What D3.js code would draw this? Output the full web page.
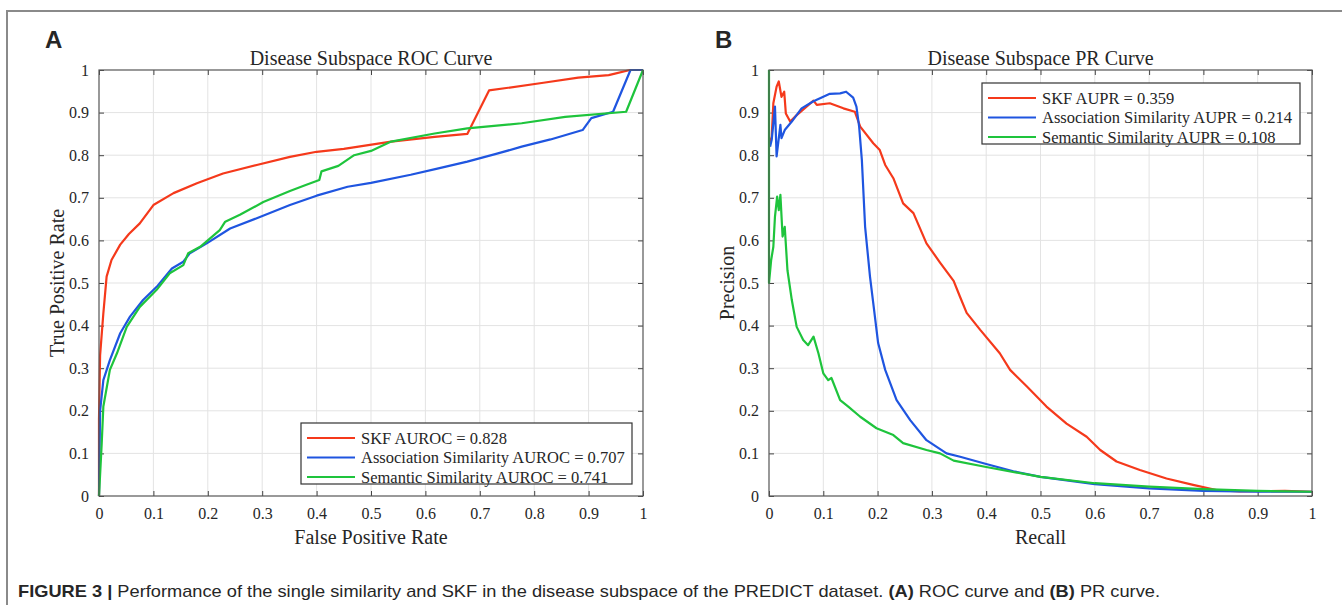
<!doctype html>
<html lang="en">
<head>
  <title>Disease subspace ROC / PR</title>
  <script src="https://d3js.org/d3.v7.min.js"></script>
  <style>
    body { margin: 0px; background: #fff; }
    svg text { font-family: "Liberation Serif", "Times New Roman", serif; fill: #262626; }
    .tick line { stroke: #444; }
    .domain { display: none; }
    .caption, .panel-letter { font-family: "Liberation Sans", Arial, sans-serif; }
  </style>
</head>
<body>
  <div id="container"></div>
  <script>
    // ticks shared by both panels
    var xTicks = [0, 0.1, 0.2, 0.3, 0.4, 0.5, 0.6, 0.7, 0.8, 0.9, 1];
    var yTicks = [0, 0.1, 0.2, 0.3, 0.4, 0.5, 0.6, 0.7, 0.8, 0.9, 1];

    var seriesNames = ["SKF", "Association Similarity", "Semantic Similarity"];
    var seriesColors = ["#f5391b", "#1f55e0", "#1ec43c"];
    var aurocValues = [0.828, 0.707, 0.741];
    var auprValues = [0.359, 0.214, 0.108];

    // ROC curves: [FPR, TPR]
    var skfRoc = [[0,0],[0,0.18],[0.002,0.33],[0.008,0.429],[0.014,0.515],[0.023,0.554],[0.039,0.59],
      [0.055,0.615],[0.075,0.64],[0.1,0.683],[0.137,0.711],[0.18,0.734],[0.228,0.757],[0.29,0.777],
      [0.351,0.796],[0.4,0.808],[0.45,0.815],[0.537,0.832],[0.617,0.843],[0.677,0.85],[0.717,0.952],
      [0.817,0.97],[0.881,0.982],[0.937,0.988],[0.976,1],[1,1]];
    var assocRoc = [[0,0],[0.001,0.1],[0.002,0.2],[0.008,0.272],[0.02,0.319],[0.039,0.382],[0.057,0.421],
      [0.081,0.46],[0.106,0.491],[0.134,0.534],[0.155,0.55],[0.167,0.57],[0.198,0.593],[0.241,0.628],
      [0.29,0.652],[0.351,0.683],[0.4,0.705],[0.457,0.726],[0.5,0.735],[0.573,0.754],[0.62,0.768],
      [0.677,0.785],[0.73,0.803],[0.777,0.82],[0.83,0.837],[0.889,0.859],[0.905,0.887],[0.945,0.902],
      [0.977,1],[1,1]];
    var semRoc = [[0,0],[0.005,0.124],[0.008,0.21],[0.02,0.296],[0.033,0.335],[0.051,0.397],[0.075,0.444],
      [0.106,0.484],[0.13,0.523],[0.155,0.542],[0.164,0.57],[0.186,0.585],[0.222,0.624],[0.232,0.644],
      [0.259,0.66],[0.302,0.69],[0.351,0.716],[0.38,0.73],[0.405,0.742],[0.409,0.762],[0.44,0.775],
      [0.469,0.8],[0.5,0.81],[0.537,0.832],[0.617,0.851],[0.677,0.863],[0.777,0.875],[0.857,0.89],
      [0.969,0.902],[1,1]];

    // PR curves: [recall, precision]
    var skfPr = [[0.002,0.83],[0.005,0.843],[0.008,0.922],[0.014,0.961],[0.018,0.973],[0.023,0.937],
      [0.028,0.949],[0.031,0.898],[0.039,0.879],[0.051,0.894],[0.082,0.928],[0.088,0.918],[0.112,0.922],
      [0.137,0.91],[0.158,0.902],[0.168,0.867],[0.192,0.828],[0.204,0.812],[0.214,0.777],[0.229,0.746],
      [0.247,0.687],[0.266,0.664],[0.29,0.593],[0.315,0.548],[0.34,0.505],[0.351,0.47],[0.364,0.43],
      [0.389,0.39],[0.425,0.335],[0.444,0.296],[0.475,0.257],[0.511,0.21],[0.548,0.17],[0.585,0.139],
      [0.61,0.108],[0.64,0.081],[0.683,0.061],[0.732,0.041],[0.781,0.026],[0.824,0.014],[0.867,0.011],
      [0.95,0.012],[1,0.01]];
    var assocPr = [[0.002,0.82],[0.005,0.836],[0.011,0.914],[0.014,0.797],[0.021,0.871],[0.023,0.84],
      [0.029,0.859],[0.042,0.879],[0.06,0.91],[0.081,0.926],[0.112,0.944],[0.131,0.945],[0.142,0.949],
      [0.155,0.935],[0.161,0.914],[0.166,0.867],[0.171,0.789],[0.177,0.632],[0.186,0.515],[0.192,0.453],
      [0.201,0.359],[0.214,0.296],[0.235,0.225],[0.26,0.178],[0.29,0.131],[0.327,0.1],[0.352,0.092],
      [0.4,0.075],[0.45,0.058],[0.5,0.045],[0.6,0.028],[0.7,0.018],[0.8,0.012],[0.9,0.01],[1,0.01]];
    var semPr = [[0,1],[0,0.5],[0.004,0.554],[0.008,0.585],[0.011,0.656],[0.015,0.703],[0.018,0.671],
      [0.021,0.707],[0.025,0.609],[0.029,0.632],[0.034,0.53],[0.042,0.46],[0.051,0.397],[0.063,0.366],
      [0.072,0.354],[0.082,0.374],[0.091,0.335],[0.1,0.288],[0.109,0.272],[0.115,0.277],[0.131,0.225],
      [0.146,0.21],[0.168,0.186],[0.198,0.159],[0.229,0.143],[0.247,0.124],[0.29,0.108],[0.315,0.1],
      [0.34,0.083],[0.4,0.068],[0.5,0.045],[0.6,0.03],[0.7,0.022],[0.8,0.016],[0.9,0.012],[1,0.01]];

    var svg = d3.select('#container').append('svg')
      .attr('width', 1342)
      .attr('height', 605);

    // figure frame (top + left edge)
    svg.append('path')
      .attr('d', 'M7,605 V11 H1342')
      .attr('fill', 'none')
      .attr('stroke', '#8a8a8a')
      .attr('stroke-width', 2);

    function drawPanel(p) {
      var x = d3.scaleLinear().domain([0, 1]).range([p.left, p.right]);
      var y = d3.scaleLinear().domain([0, 1]).range([496, 70]);
      var g = svg.append('g');
      var fmt = d3.format('~g');

      // grid
      g.append('g').selectAll('line').data(xTicks.slice(1, -1)).enter().append('line')
        .attr('x1', function (d) { return x(d); }).attr('x2', function (d) { return x(d); })
        .attr('y1', y(0)).attr('y2', y(1))
        .attr('stroke', '#e3e3e3').attr('stroke-width', 1);
      g.append('g').selectAll('line').data(yTicks.slice(1, -1)).enter().append('line')
        .attr('y1', function (d) { return y(d); }).attr('y2', function (d) { return y(d); })
        .attr('x1', x(0)).attr('x2', x(1))
        .attr('stroke', '#e3e3e3').attr('stroke-width', 1);

      // axes with inward ticks on all four sides
      g.append('g').attr('transform', 'translate(0,' + y(0) + ')')
        .call(d3.axisBottom(x).tickValues(xTicks).tickSize(-5).tickPadding(12).tickFormat(fmt));
      g.append('g').attr('transform', 'translate(0,' + y(1) + ')')
        .call(d3.axisTop(x).tickValues(xTicks).tickSize(-5).tickFormat(''));
      g.append('g').attr('transform', 'translate(' + x(0) + ',0)')
        .call(d3.axisLeft(y).tickValues(yTicks).tickSize(-5).tickPadding(10).tickFormat(fmt));
      g.append('g').attr('transform', 'translate(' + x(1) + ',0)')
        .call(d3.axisRight(y).tickValues(yTicks).tickSize(-5).tickFormat(''));
      g.selectAll('.tick text')
        .style('font-family', '"Liberation Serif", serif')
        .style('font-size', '16px')
        .attr('fill', '#262626');

      var line = d3.line()
        .x(function (d) { return x(d[0]); })
        .y(function (d) { return y(d[1]); });

      p.series.forEach(function (s, i) {
        g.append('path')
          .datum(s)
          .attr('d', line)
          .attr('fill', 'none')
          .attr('stroke', seriesColors[i])
          .attr('stroke-width', 2.2)
          .attr('stroke-linejoin', 'round');
      });

      // axes box
      g.append('rect')
        .attr('x', x(0)).attr('y', y(1))
        .attr('width', x(1) - x(0)).attr('height', y(0) - y(1))
        .attr('fill', 'none').attr('stroke', '#555').attr('stroke-width', 1.2);

      // titles
      g.append('text')
        .attr('x', (x(0) + x(1)) / 2).attr('y', 65)
        .style('text-anchor', 'middle').style('font-size', '20px')
        .text(p.title);
      g.append('text')
        .attr('x', (x(0) + x(1)) / 2).attr('y', 544)
        .style('text-anchor', 'middle').style('font-size', '20px')
        .text(p.xLabel);
      g.append('text')
        .attr('transform', 'rotate(-90)')
        .attr('x', -283).attr('y', p.left - 35)
        .style('text-anchor', 'middle').style('font-size', '20px')
        .text(p.yLabel);

      g.append('text')
        .attr('class', 'panel-letter')
        .attr('x', p.left - 54).attr('y', 48)
        .style('font-size', '24px').style('font-weight', 'bold')
        .attr('fill', '#111')
        .text(p.letter);

      // legend
      var lg = g.append('g').attr('transform', 'translate(' + p.legend[0] + ',' + p.legend[1] + ')');
      lg.append('rect')
        .attr('width', p.legend[2]).attr('height', 61)
        .attr('fill', '#fff').attr('stroke', '#333').attr('stroke-width', 1.2);
      seriesNames.forEach(function (n, i) {
        var yy = 15 + i * 19.5;
        lg.append('line')
          .attr('x1', 6).attr('x2', 54).attr('y1', yy).attr('y2', yy)
          .attr('stroke', seriesColors[i]).attr('stroke-width', 2.2);
        lg.append('text')
          .attr('x', 60).attr('y', yy + 5.5)
          .style('font-size', '16.5px')
          .text(n + ' ' + p.metric + ' = ' + p.values[i].toFixed(3));
      });
    }

    drawPanel({
      left: 99, right: 643, letter: 'A',
      title: 'Disease Subspace ROC Curve', xLabel: 'False Positive Rate', yLabel: 'True Positive Rate',
      series: [skfRoc, assocRoc, semRoc], metric: 'AUROC', values: aurocValues,
      legend: [301, 423, 331]
    });
    drawPanel({
      left: 769, right: 1312, letter: 'B',
      title: 'Disease Subspace PR Curve', xLabel: 'Recall', yLabel: 'Precision',
      series: [skfPr, assocPr, semPr], metric: 'AUPR', values: auprValues,
      legend: [982, 83, 318]
    });

    // caption, stretched to the reference's width
    var cap = svg.append('text')
      .attr('class', 'caption')
      .attr('x', 18).attr('y', 597)
      .attr('textLength', 1142)
      .attr('lengthAdjust', 'spacingAndGlyphs')
      .style('font-size', '17px')
      .attr('fill', '#222');
    cap.append('tspan').style('font-weight', 'bold').text('FIGURE 3 | ');
    cap.append('tspan').text('Performance of the single similarity and SKF in the disease subspace of the PREDICT dataset. ');
    cap.append('tspan').style('font-weight', 'bold').text('(A)');
    cap.append('tspan').text(' ROC curve and ');
    cap.append('tspan').style('font-weight', 'bold').text('(B)');
    cap.append('tspan').text(' PR curve.');
  </script>
</body>
</html>
